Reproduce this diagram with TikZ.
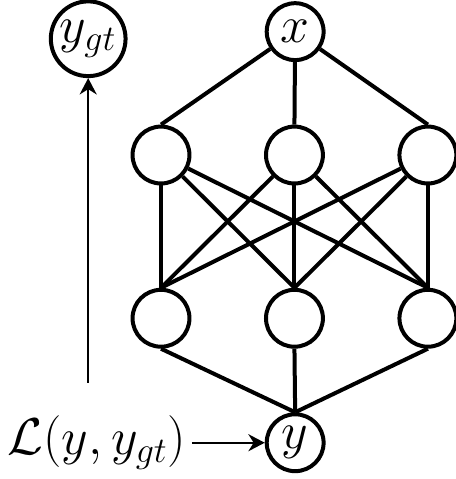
\documentclass[tikz,border=0pt]{standalone}
\usepackage{amsfonts,amsmath,amssymb}
\usepackage{tikz}
\usetikzlibrary{arrows.meta, positioning, calc}

\begin{document}
\begin{tikzpicture}[
    node distance=1.0cm and 1.02cm,
    neuron/.style={
        circle, draw=black, line width=1.6pt,
        minimum size=0.80cm, inner sep=1pt, font=\huge
    },
    edge/.style={line width=1.6pt},
    arrow/.style={-{Stealth[length=2.3mm, width=2.4mm]}, line width=0.8pt},
    losslabel/.style={font=\fontsize{20}{24}\selectfont, inner sep=2pt}
]
\useasboundingbox (0,0) rectangle (6.41,6.735);

% Input and hidden layers
\node[neuron] (x) at (4.15, 6.29) {$x$};

\node[neuron] (h2) at (4.14, 4.555) {};
\node[neuron, left=of h2] (h1) {};
\node[neuron, right=of h2] (h3) {};

\node[neuron] (g2) at (4.14, 2.26) {};
\node[neuron, left=of g2] (g1) {};
\node[neuron, right=of g2] (g3) {};

% Output
\node[neuron] (y) at (4.15, 0.51) {$y$};

% Ground truth and loss
\node[neuron] (ygt) at (1.24, 6.19) {$y_{gt}$};
\node[losslabel, anchor=west] (loss) at (0.03, 0.51) {$\mathcal{L}(y, y_{gt})$};
\coordinate (lossup) at (ygt |- 0, 1.35);

% Connections
\draw[edge] (x) -- (h1.north);
\draw[edge] (x) -- (h2.north);
\draw[edge] (x) -- (h3.north);

\draw[edge] (h1) -- (g1.north);
\draw[edge] (h1) -- (g2.north);
\draw[edge] (h1) -- (g3.north);
\draw[edge] (h2) -- (g1.north);
\draw[edge] (h2) -- (g2.north);
\draw[edge] (h2) -- (g3.north);
\draw[edge] (h3) -- (g1.north);
\draw[edge] (h3) -- (g2.north);
\draw[edge] (h3) -- (g3.north);

\draw[edge] (g1.south) -- (y.north);
\draw[edge] (g2.south) -- (y.north);
\draw[edge] (g3.south) -- (y.north);

\draw[arrow] (loss) -- (y);
\draw[arrow] (lossup) -- (ygt);

\end{tikzpicture}
\end{document}
